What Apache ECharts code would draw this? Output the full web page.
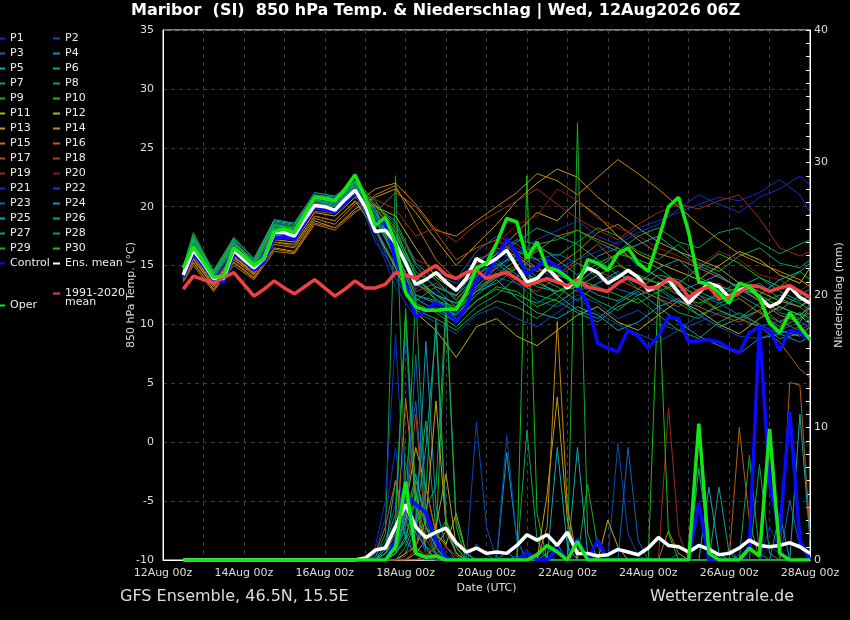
<!DOCTYPE html>
<html><head><meta charset="utf-8">
<script src="https://cdn.jsdelivr.net/npm/echarts@6/dist/echarts.min.js"></script>
<style>html,body{margin:0;padding:0;background:#000;}#c{width:850px;height:620px;}</style>
</head><body><div id="c"></div>
<script>
// hours since 12Aug 00z
const HOURS6 = [12,18,24,30,36,42,48,54,60,66,72,78,84,90,96,102,108,114,120,126,132,138,144,150,156,162,168,174,180,186,192,198,204,210,216,222,228,234,240,246,252,258,264,270,276,282,288,294,300,306,312,318,324,330,336,342,348,354,360,366,372,378,384];
const MEMBER_HOURS = [12,18,30,42,54,66,78,90,102,114,126,138,150,162,174,186,198,210,222,234,246,258,270,282,294,306,318,330,342,354,366,378,384];
const PRECIP_HOURS = [12,120,126,132,138,144,150,156,162,168,174,180,186,192,198,204,210,216,222,228,234,240,246,252,258,264,270,276,282,288,294,300,306,312,318,324,330,336,342,348,354,360,366,372,378,384];
const DATE_LABELS = ['12Aug 00z','14Aug 00z','16Aug 00z','18Aug 00z','20Aug 00z','22Aug 00z','24Aug 00z','26Aug 00z','28Aug 00z'];

const MEAN_T = [14.2,16.3,15.2,13.9,13.9,16.3,15.5,14.8,15.6,17.8,17.8,17.5,18.9,20.1,20.0,19.7,20.6,21.4,20.0,17.9,18.0,16.9,15.2,13.4,13.8,14.4,13.6,12.9,13.9,
 15.6,15.1,15.6,16.3,14.9,13.6,13.9,14.8,13.9,13.1,13.8,14.8,14.4,13.5,14.0,14.6,14.0,12.9,13.3,13.8,12.7,11.8,12.7,13.5,13.2,12.3,12.9,13.2,12.3,11.5,11.9,13.2,12.3,11.8];
const CTRL_T = [14.0,16.0,15.0,13.8,13.6,16.0,15.4,14.6,15.3,17.3,17.4,17.2,18.6,20.0,19.8,19.5,20.3,21.2,20.1,18.7,18.6,15.5,13.5,10.6,11.2,11.9,11.2,10.2,11.5,
 13.8,14.2,15.6,17.3,16.0,14.2,14.9,15.5,14.9,14.0,13.2,11.8,8.4,8.0,7.7,9.5,9.0,8.0,9.0,10.6,10.5,8.5,8.6,8.7,8.5,8.0,7.6,9.3,9.8,9.5,7.8,9.5,9.3,8.7];
const OPER_T = [14.8,16.6,15.3,14.0,14.1,16.5,15.8,15.0,15.6,17.9,18.1,17.8,19.3,20.8,20.7,20.5,21.5,22.7,20.8,18.4,19.1,16.9,12.7,11.5,11.2,11.2,11.3,11.3,12.7,
 14.8,15.2,16.9,19.0,18.7,15.6,17.0,14.8,14.6,14.0,13.2,15.5,15.2,14.6,16.0,16.5,15.2,14.5,17.2,20.0,20.8,17.8,13.6,13.4,12.7,11.8,13.5,13.2,12.3,10.1,9.3,11.0,9.8,8.7];
const CLIM_T = [13.0,14.1,13.8,13.5,14.0,14.4,13.4,12.4,13.0,13.7,13.1,12.6,13.2,13.8,13.1,12.4,13.0,13.7,13.1,13.1,13.4,14.4,14.2,13.9,14.5,15.0,14.2,13.9,14.4,
 14.6,13.9,14.2,14.4,13.9,13.3,13.6,13.9,13.6,13.3,13.8,13.2,13.0,12.8,13.5,14.0,13.6,13.1,13.2,13.9,13.5,12.3,12.9,13.2,12.2,12.3,12.7,13.3,13.2,12.8,13.1,13.3,12.8,12.3];

const MEAN_P = [0,0,0,0,0,0,0,0,0,0,0,0,0,0,0,0,0,0,0.15,0.75,0.9,2.5,4.2,2.5,1.7,2.1,2.4,1.3,0.6,0.9,
 0.5,0.6,0.5,1.1,1.9,1.5,1.9,1.1,2.1,0.5,0.5,0.3,0.4,0.8,0.6,0.4,0.9,1.7,1.1,1.0,0.6,1.1,0.8,0.4,0.5,0.9,1.5,1.1,1.0,1.1,1.3,1.0,0.5];
const CTRL_P = [0,0,0,0,1.5,4.9,4.2,3.6,1.5,0.2,0,0,0,0,0,0,0,0.5,0,0,0.8,0,1.6,0,1.5,0,0,0,0,0,0,0,0,0,4.3,0,0,0,0,1.0,17.7,5.8,2.0,11.2,1.5,0];
const OPER_P = [0,0,0,0,1.0,5.9,0.5,0.2,0.3,0,0,0,0,0,0,0,0,0,0.4,1.1,0.6,0,1.4,0,0,0,0,0,0,0,0,0,0,0,10.3,0.5,0,0,0,0.9,0.3,9.9,0.5,0,0,0];

const P1_T=[14.0,16.0,13.7,16.0,14.6,17.4,17.2,19.8,19.5,21.0,18.5,13.8,11.5,12.8,11.0,14.5,15.0,16.5,15.2,14.8,15.5,16.2,17.0,18.2,18.8,19.5,20.2,20.8,20.5,21.2,22.3,21.0,19.5];
const P2_T=[14.3,16.5,14.1,16.6,15.0,18.0,17.8,20.3,20.0,21.6,17.0,14.5,10.8,11.5,10.2,13.2,14.0,13.5,12.0,11.5,12.5,11.8,10.5,11.2,10.0,9.5,10.2,11.0,10.5,9.8,10.3,11.0,10.2];
const P3_T=[14.5,16.8,14.3,16.9,15.3,18.4,18.0,20.8,20.5,21.8,19.5,17.0,13.0,14.5,13.8,16.2,17.5,16.8,15.5,16.0,15.2,14.0,13.0,12.5,13.2,12.0,11.5,12.8,13.5,12.2,11.0,10.5,11.8];
const P4_T=[14.1,16.2,13.8,16.4,14.9,17.9,17.6,20.5,20.2,21.5,18.2,15.0,12.0,13.2,12.4,14.8,16.0,17.2,16.8,15.5,14.2,15.8,16.5,15.0,14.0,12.8,13.5,14.2,13.0,12.0,11.2,12.5,13.0];
const P5_T=[14.6,17.2,14.0,16.8,15.5,18.8,18.5,21.0,20.8,22.0,19.8,16.2,12.5,11.8,10.8,12.5,13.8,12.2,11.0,10.5,11.5,10.8,9.5,10.2,11.5,12.2,10.8,9.8,10.5,11.2,9.5,9.0,9.8];
const P6_T=[14.2,16.4,14.0,16.2,14.7,17.6,17.4,20.0,19.6,21.2,18.8,17.5,14.2,12.0,11.2,13.5,15.5,14.2,13.2,12.8,13.5,12.5,12.0,13.0,14.2,13.8,12.8,12.0,13.2,14.0,12.8,12.0,12.5];
const P7_T=[14.9,17.6,14.4,17.2,15.2,18.2,18.0,20.6,20.3,21.8,20.2,18.5,15.0,13.0,11.5,12.8,14.2,15.5,14.0,13.2,12.0,13.5,14.5,13.0,12.2,11.0,10.5,11.8,12.5,11.5,10.2,11.0,10.5];
const P8_T=[14.4,16.6,14.2,16.5,15.0,18.1,17.8,20.4,20.0,21.6,19.2,16.5,11.8,11.0,9.8,11.5,12.5,14.0,16.5,15.8,17.0,18.2,17.5,16.2,15.5,16.8,15.2,14.5,15.8,16.5,15.2,14.8,15.5];
const P9_T=[14.7,17.0,14.5,17.0,15.4,18.5,18.2,20.7,20.4,22.0,19.0,15.5,11.2,10.5,9.5,11.0,12.0,11.5,10.5,11.8,13.0,12.0,11.2,12.5,13.0,11.8,10.8,11.5,12.2,11.0,9.8,10.5,11.0];
const P10_T=[14.8,17.4,14.2,16.9,15.3,18.3,18.1,20.9,20.6,22.2,20.5,17.8,13.5,12.2,10.5,12.0,13.2,12.8,11.5,12.2,14.0,15.2,16.0,15.5,14.8,13.5,14.8,16.0,15.2,14.0,13.2,14.5,13.8];
const P11_T=[13.8,15.5,13.2,15.5,14.2,17.0,16.8,19.2,18.8,20.5,18.0,14.8,11.0,9.5,7.2,9.8,10.5,9.0,8.2,9.5,10.8,11.5,10.2,9.5,10.8,12.0,11.2,10.0,9.2,10.5,11.5,10.8,10.0];
const P12_T=[14.0,15.8,13.5,15.8,14.4,17.2,17.0,19.5,19.2,20.8,20.0,19.2,16.5,14.0,12.8,14.5,16.0,17.8,19.5,18.8,20.5,19.2,17.5,16.0,15.2,14.5,13.8,15.0,16.2,15.5,14.2,13.5,14.8];
const P13_T=[13.9,15.2,13.0,15.3,14.0,16.5,16.2,18.8,18.2,19.8,20.8,21.5,19.5,17.2,15.0,16.8,18.5,20.5,22.0,23.2,22.5,20.8,19.5,18.2,17.0,16.2,15.5,14.8,13.5,12.8,12.0,11.5,12.2];
const P14_T=[14.1,15.6,13.4,15.7,14.3,16.8,16.5,19.0,18.5,20.2,21.5,22.0,20.2,18.0,17.5,18.8,20.0,21.2,22.8,22.2,21.0,22.5,24.0,22.8,21.5,20.0,18.5,17.2,16.0,15.2,14.5,13.8,13.2];
const P15_T=[13.6,15.0,12.8,15.0,13.8,16.2,16.0,18.5,18.0,19.5,21.0,21.8,18.5,15.5,13.8,15.2,16.5,15.8,14.5,15.0,16.2,17.8,18.5,17.2,16.0,15.5,14.8,14.0,13.2,12.0,10.8,10.2,11.5];
const P16_T=[13.7,15.3,12.9,15.2,13.9,16.4,16.1,18.6,18.2,19.6,20.2,17.0,13.5,12.5,11.8,13.0,14.2,15.0,16.2,17.5,18.0,17.2,16.5,15.2,14.0,13.2,12.5,11.2,10.5,9.8,8.5,6.2,5.5];
const P17_T=[13.8,15.6,13.3,15.6,14.2,17.0,16.6,19.2,18.8,20.4,19.5,21.2,20.0,17.8,15.5,16.5,17.2,16.0,14.8,14.2,15.5,16.8,15.2,14.0,13.5,12.8,11.5,10.8,10.2,11.2,12.0,11.5,10.8];
const P18_T=[14.0,16.0,13.6,15.9,14.5,17.4,17.2,19.6,19.4,21.0,19.0,16.0,12.8,13.5,12.2,13.8,14.8,13.5,12.8,14.0,15.2,14.5,13.8,13.0,12.2,11.5,12.8,13.5,12.2,11.0,10.2,9.5,10.0];
const P19_T=[14.3,16.6,14.0,16.4,14.8,17.8,17.6,20.2,19.8,21.3,20.6,19.8,17.5,18.2,17.0,18.5,19.5,20.5,21.5,20.2,19.0,18.0,17.2,18.5,19.5,20.2,19.8,20.5,21.0,19.0,16.5,15.8,16.2];
const P20_T=[14.5,16.7,14.2,16.7,15.1,18.0,17.7,20.4,20.1,21.6,20.0,18.0,15.5,14.8,13.8,15.0,16.8,18.5,19.2,21.5,20.5,19.0,18.2,17.5,16.5,15.8,15.0,16.2,15.5,14.2,13.8,12.8,13.5];
const P21_T=[14.2,16.3,13.9,16.3,14.8,17.7,17.5,20.0,19.6,21.2,17.5,13.2,10.5,11.8,11.0,13.0,14.5,16.0,17.2,18.0,18.8,17.5,16.8,17.8,18.5,19.8,21.0,20.2,19.5,20.8,21.5,22.6,21.8];
const P22_T=[14.0,16.1,13.6,16.1,14.6,17.5,17.3,19.9,19.4,21.0,18.0,14.0,11.0,10.2,9.2,10.8,11.5,10.5,9.8,11.0,12.2,11.0,10.0,9.2,8.5,9.5,10.8,9.8,9.0,8.8,9.5,10.2,9.8];
const P23_T=[14.6,16.9,14.4,17.0,15.4,18.6,18.3,20.9,20.6,22.0,19.2,16.8,13.5,14.2,13.5,15.5,16.2,15.5,14.8,13.8,12.8,13.5,14.2,13.8,12.5,11.8,12.5,11.8,10.8,10.0,9.2,9.8,10.5];
const P24_T=[14.3,16.7,14.1,16.7,15.2,18.4,18.0,20.6,20.2,21.7,18.8,15.8,12.2,11.2,10.8,12.8,13.5,14.8,13.8,12.5,11.2,10.5,11.8,12.8,11.5,10.2,9.0,8.2,7.5,8.8,9.2,8.5,9.0];
const P25_T=[14.7,17.3,14.6,17.3,15.6,18.9,18.6,21.2,20.9,22.1,19.5,17.2,13.8,12.5,11.8,13.2,14.8,16.2,15.5,14.2,13.5,14.8,16.0,16.8,17.5,16.2,15.0,14.2,13.0,12.5,13.8,14.5,15.2];
const P26_T=[14.5,16.8,14.3,16.6,15.1,18.2,17.9,20.5,20.1,21.7,19.8,17.8,14.5,13.2,12.5,14.0,15.8,17.0,18.2,17.5,16.8,15.5,14.2,13.5,14.8,15.5,14.0,13.2,12.8,13.5,12.2,11.5,12.0];
const P27_T=[14.8,17.5,14.3,17.1,15.3,18.5,18.2,20.8,20.4,21.9,20.0,18.8,15.2,13.8,12.0,14.2,15.2,13.8,12.5,12.0,11.0,10.2,11.5,12.2,10.8,9.5,8.8,10.2,11.0,10.0,8.8,9.2,9.8];
const P28_T=[14.4,16.5,14.1,16.4,14.9,17.9,17.7,20.3,20.0,21.5,19.0,16.2,12.5,12.0,11.5,13.8,15.0,15.8,16.8,17.2,18.0,17.0,16.2,17.5,18.2,17.0,16.5,17.8,18.2,17.0,16.0,16.8,17.2];
const P29_T=[14.9,17.8,14.5,17.4,15.5,18.7,18.4,21.0,20.7,22.2,19.5,15.8,11.5,11.2,10.2,12.0,13.0,12.5,11.8,12.8,13.8,13.2,12.5,11.8,12.8,13.5,12.2,11.2,10.5,11.8,12.5,11.8,11.2];
const P30_T=[14.6,17.1,14.4,16.9,15.2,18.4,18.2,20.9,20.5,22.0,20.2,18.2,14.0,12.5,11.2,12.8,14.0,14.8,13.5,12.8,13.2,14.2,15.0,14.2,13.5,12.5,11.8,12.5,13.2,12.5,11.5,10.8,11.5];

const P1_P=[0,0,0.5,3.2,8.5,2.0,0.4,0.2,0,0, 0,0,0,0,0,0,0.3,0,0.6,0.3, 0,0,0,0,0,0,0,0,0,0, 0,0,0,0,1.2,0.5,0,0,0,0, 0,2.5,0.8,0,0,0];
const P2_P=[0,0,0.3,1.5,4.2,17.5,3.0,0.5,0,0, 0,0,0,0,0,0,0,0.8,0,0, 0,0,1.5,0,0,0,8.8,2.0,0.3,0, 0,0,0,0,0,0,0,0,0.4,0, 0,0,0,0,0,0];
const P3_P=[0,0,0,0.5,2.0,6.5,12.0,2.5,0.5,0, 0,0,1.2,0.4,0,0,0,0,0,0, 0,0,0,0,0,0,0,0,0,0, 0,0,0.5,0,0,0,0,0,0,0, 0,0,0,4.5,1.0,0];
const P4_P=[0,0,0,0,1.0,3.5,2.0,16.5,4.0,1.0, 0,0,0,0,0,0.6,0,0,0,0, 0,0,0,0,0,0,0,0,0,0, 0,0,0,0,0,0,0,0.8,0,0, 0,0,0,0,0,0];
const P5_P=[0,0,0,0.8,6.0,1.5,0.5,0.3,0,0, 0,0,0,0,0,8.1,1.5,0,0,0, 0,0,8.5,0.5,0,0,0,0,0,0, 0,0,0,0,6.9,1.2,0,0,0,0, 0,0,0,0,11.0,1.5];
const P6_P=[0,0,0,0,0.5,1.8,4.5,10.5,2.2,0, 0,0,0,0,0,0,0,0,0,0.5, 1.2,0,0,0,0,0,0,0,0,0, 0,0,0,0,0,0,5.5,0.5,0,0, 0,0,0,0,0,0];
const P7_P=[0,0,0,0,0,0.5,2.5,5.0,18.2,3.0, 0.5,0,0,0,0,0,0,9.8,1.5,0, 0,0,0,0,0,0,0,0,0,0, 0,0,0,0,0,0,0,0,0,0, 0,0,0,0,0,0];
const P8_P=[0,0,0.2,2.0,29.0,4.5,1.0,0,0,0, 0,0,0,0,0,0,0,0,0,0, 0,0,0,0,0,0,0,0,0,0, 0,0,0,0,0,0,0,0,0,7.9, 0.5,0,0,0,0,0];
const P9_P=[0,0,0,1.2,3.5,18.5,4.0,0.8,0,0, 0,0,0,0,0,0,0,0,0,0, 0,0,33.0,2.0,0,0,0,0,0,0, 0,0,0,0,0,0,0,0,0,0, 0,0,0,0,0,0];
const P10_P=[0,0,0,0,0.8,2.5,6.0,3.5,1.5,19.0, 2.5,0,0,0,0,0,0,29.0,3.5,0, 0,0,0,0,0,0,0,0,0,0, 0,0,0,0,0,0,0,0,0,0, 0,0,0,0,0,0];
const P11_P=[0,0,0,0.5,1.5,4.0,8.5,5.5,2.0,1.2, 3.5,0.5,0,0,0,0,0,0,0,0, 0,0,0,0,0,0,0,0,0,0, 0,0,0,0,0,0,0,0,0,0, 0,0,0,0,0,0];
const P12_P=[0,0,0,0,0,0.5,1.0,3.0,12.0,2.5, 0.5,0,0,0,0,0,0,0,0,0, 0,0,0,0,0,3.0,1.0,0,0,0, 0,0,0,0,0,0,0,0,0,0, 0,0,0,0,0,0];
const P13_P=[0,0,0,0,0,0,0.5,1.5,2.5,6.5, 1.0,0,0,0,0,0,0,0,0,5.0, 12.3,3.0,0,0,0,0,0,0,0,0, 0,0,0,0,0,0,0,0,0,0, 0,0,0,0,0,0];
const P14_P=[0,0,0,0,0,0,0,0.3,1.0,2.2, 0.5,0,0,0,0,0,0,0,0,2.5, 18.0,4.0,0,0,0,0,0,0,0,0, 0,0,0,0,0,0,0,0,0,0, 0,0,0,0,0,0];
const P15_P=[0,0,0,0,0.5,12.2,4.5,1.0,0,0, 0,0,0,0,0,0,0,0,0,0, 0,0,0,0,0,0,0,0,0,0, 0,2.2,0.5,0,0,0,0,0,0,0, 0,0,0,0,0,0];
const P16_P=[0,0,0.5,2.5,6.0,3.0,1.0,0.3,0,0, 0,0,0,0,0,0,0,0,0,0, 0,0,0,0,0,0,0,0,0,0, 0,0,0,0,0,0,0,0,10.0,3.0, 0,0,0,13.4,13.2,2.0];
const P17_P=[0,0,0,0,0,0,0.8,5.5,2.0,1.0, 0.3,0,0,0,0,0,0,0,0,0, 0,0,0,0,0,0,0,0,0,0, 0,0,0,0,0,0,0,0,0,0, 0,0,0,0,0,0];
const P18_P=[0,0,0,0.5,2.0,3.5,11.0,2.0,0.5,0, 0,0,0,0,0,0,0,0,0,0, 0,0,0,0,0,0,0,0,0,0, 0,0,0,0,0,0,0,0,0,0, 0,0,0,0,0,0];
const P19_P=[0,0,0,0,0,0,0,0,0.5,1.0, 0.3,0,0,0,0,0,0,0,0,0, 0,0,0,0,0,0,0,0,0,0, 0,11.5,2.0,0,0,0,0,0,0,0, 0,0,0,0,0,0];
const P20_P=[0,0,0,0,0,0.3,1.5,2.5,1.0,0, 0,0,0,0,0,0,0,0,0,0, 0,0,0,0,0,0,0,0,0,0, 0,0,0,0,0,0,0,0,0,0, 0,0,0,0,0,0];
const P21_P=[0,0,1.0,4.5,17.0,3.5,0.5,0,0,0, 0,0,0,0,0,0,0,0,0,0, 0,0,0,0,0,0,0,0,0,0, 0,0,0,0,0,0,0,0,0,0, 0,1.0,0.5,0,0,0];
const P22_P=[0,0,0.2,1.0,3.0,6.0,2.5,0.5,0,0, 0,0,10.4,2.5,0,9.4,1.5,0,0,0, 0,0,0,0,0,0,0,0,0,0, 0,0,0,0,0,0,0,0,0,0, 0,0,0,0,0,0];
const P23_P=[0,0,0,0,0.5,2.5,15.5,3.0,0.8,0, 0,0,0,0,0,0,0,0,0,0, 0,0,0,0,0,0,0,8.5,1.5,0, 0,0,0,0,0,0,0,0,0,0, 0,0,0,0,0,0];
const P24_P=[0,0,0,0.5,1.5,4.0,2.0,1.0,0.5,0, 0,0,0,0,0,0,0,0,0,0, 0,0,0,0,0,0,0,0,0,0, 0,0,0,0,0,0,0,0,0,0, 0,0,3.5,0,0,0];
const P25_P=[0,0,0,0,0.8,3.0,6.5,2.5,1.0,0, 0,0,0,0,0,0,0,0,0,0, 8.5,1.0,0,0,0,0,0,0,0,0, 0,0,0,0,0,5.5,0.5,0,0,0, 0,0,0,0,0,0];
const P26_P=[0,0,0,0,0,1.0,3.0,8.5,17.5,2.5, 0.5,0,0,0,0,0,0,0,0,0, 0,0,0,0,0,0,0,0,0,0, 0,0,0,0,0,0,0,0,0,0, 0,0,0,0,0,0];
const P27_P=[0,0,0,0,0.5,1.5,3.0,4.0,5.5,19.5, 3.0,0.5,0,0,0,0,0,0,0,0, 0,0,0,0,0,0,0,0,0,0, 0,0,0,0,0,0,0,0,0,0, 7.2,0.5,0,0,0,0];
const P28_P=[0,0,0,0,0.5,3.5,20.0,4.0,1.0,0, 0,0,0,0,0,0,0,0,0,0, 0,0,0,0,0,0,0,0,0,0, 0,0,0,0,0,0,0,0,0,0, 0,0,0,0,0,0];
const P29_P=[0,0,0,0.5,2.5,19.0,5.0,1.5,0.5,0, 0,0,0,0,0,0,0,0,0,0, 0,0,0,5.7,1.0,0,0,0,0,0, 0,0,0,0,0,0,0,0,0,0, 0,0,0,0,0,0];
const P30_P=[0,0,0,0,0.5,1.5,5.0,2.5,1.5,3.0, 1.0,0,0,0,0,0,0,0,0,0, 0,0,0,0,0,0,0,0,0,0, 21.0,2.0,0,0,0,0,0,0,0,0, 0,0,0,0,0,0];

const MEMBER_NAMES = ['P1','P2','P3','P4','P5','P6','P7','P8','P9','P10','P11','P12','P13','P14','P15','P16','P17','P18','P19','P20','P21','P22','P23','P24','P25','P26','P27','P28','P29','P30'];
const MEMBER_T = [P1_T,P2_T,P3_T,P4_T,P5_T,P6_T,P7_T,P8_T,P9_T,P10_T,P11_T,P12_T,P13_T,P14_T,P15_T,P16_T,P17_T,P18_T,P19_T,P20_T,P21_T,P22_T,P23_T,P24_T,P25_T,P26_T,P27_T,P28_T,P29_T,P30_T];
const MEMBER_P = [P1_P,P2_P,P3_P,P4_P,P5_P,P6_P,P7_P,P8_P,P9_P,P10_P,P11_P,P12_P,P13_P,P14_P,P15_P,P16_P,P17_P,P18_P,P19_P,P20_P,P21_P,P22_P,P23_P,P24_P,P25_P,P26_P,P27_P,P28_P,P29_P,P30_P];
const MEMBER_COLORS = ['#1030c8','#0a48b8','#1464b4','#1490c0','#14a8b0','#10a088','#10a064','#10a044','#14ac28','#10c010',
 '#b4b414','#c4ac10','#c49c10','#c48810','#c07414','#b46010','#b45010','#b04018','#9c2c18','#8c1c14',
 '#1030c8','#0a48b8','#1464b4','#1490c0','#14a8b0','#10a088','#10a064','#10a044','#14ac28','#10c010'];

function pairs(hours, vals){ return hours.map(function(h,i){ return [h, vals[i]]; }); }

const FONT = 'DejaVu Sans';
const series = [];
MEMBER_NAMES.forEach(function(n,i){
  const c = MEMBER_COLORS[i];
  series.push({name:n, type:'line', yAxisIndex:1, data:pairs(PRECIP_HOURS, MEMBER_P[i]), symbol:'none', silent:true,
    lineStyle:{width:1, color:c}, itemStyle:{color:c}, z:2});
  series.push({name:n, type:'line', yAxisIndex:0, data:pairs(MEMBER_HOURS, MEMBER_T[i]), symbol:'none', silent:true,
    lineStyle:{width:1, color:c}, itemStyle:{color:c}, z:2});
});
function main(name, color, tVals, pVals, pHours, z){
  series.push({name:name, type:'line', yAxisIndex:0, data:pairs(HOURS6, tVals), symbol:'none', silent:true,
    lineStyle:{width:3.5, color:color}, itemStyle:{color:color}, z:z});
  if (pVals) series.push({name:name, type:'line', yAxisIndex:1, data:pairs(pHours, pVals), symbol:'none', silent:true,
    lineStyle:{width:3.5, color:color}, itemStyle:{color:color}, z:z});
}
main('Control', '#0a0aff', CTRL_T, CTRL_P, PRECIP_HOURS, 3);
main('Ens. mean', '#ffffff', MEAN_T, MEAN_P, HOURS6, 4);
main('1991-2020 mean', '#f04040', CLIM_T, null, null, 5);
main('Oper', '#14e614', OPER_T, OPER_P, PRECIP_HOURS, 6);

const leftNames = [], rightNames = [];
MEMBER_NAMES.forEach(function(n,i){ (i%2===0 ? leftNames : rightNames).push(n); });
leftNames.push('Control'); rightNames.push('Ens. mean');

const legTxt = {color:'#eeeeee', fontSize:11, lineHeight:13, fontFamily:FONT};
function leg(left, top, data, extra){
  return Object.assign({left:left, top:top, orient:'vertical', itemGap:2, itemWidth:7, itemHeight:2, icon:'rect',
    padding:0, selectedMode:false, data:data, textStyle:legTxt}, extra||{});
}

const chart = echarts.init(document.getElementById('c'));
chart.setOption({
  backgroundColor:'#000000',
  animation:false,
  textStyle:{fontFamily:FONT},
  title:[
    {text:'Maribor  (SI)  850 hPa Temp. & Niederschlag | Wed, 12Aug2026 06Z', left:131, top:3, padding:0,
     textStyle:{color:'#ffffff', fontSize:16, fontWeight:'bold', fontFamily:FONT}},
    {text:'GFS Ensemble, 46.5N, 15.5E', left:120, top:589, padding:0,
     textStyle:{color:'#dddddd', fontSize:16, fontWeight:'normal', fontFamily:FONT}},
    {text:'Wetterzentrale.de', left:650, top:589, padding:0,
     textStyle:{color:'#dddddd', fontSize:16, fontWeight:'normal', fontFamily:FONT}}
  ],
  legend:[
    leg(-2, 32, leftNames),
    leg(53, 32, rightNames),
    leg(-2, 299, ['Oper']),
    leg(53, 287, ['1991-2020 mean'], {formatter:function(){return '1991-2020';}})
  ],
  graphic:[{type:'text', left:65, top:297, style:{text:'mean', fill:'#eeeeee', font:'11px "DejaVu Sans"'}}],
  grid:{left:163, right:40, top:30, bottom:60, containLabel:false, outerBoundsMode:'none',
    show:true, borderColor:'#ffffff', borderWidth:1, backgroundColor:'transparent'},
  xAxis:{type:'value', min:0, max:384, interval:24,
    name:'Date (UTC)', nameLocation:'middle', nameGap:23, nameMoveOverlap:false, nameTextStyle:{color:'#dddddd', fontSize:11},
    axisLine:{show:true, onZero:false, lineStyle:{color:'#ffffff'}}, axisTick:{show:false},
    axisLabel:{color:'#dddddd', fontSize:11, margin:8, formatter:function(v){ return v%48===0 ? DATE_LABELS[v/48] : ''; }},
    splitLine:{show:true, lineStyle:{color:'#3c3c3c', type:[4,4], width:1}}},
  yAxis:[
    {type:'value', min:-10, max:35, interval:5, position:'left',
     name:'850 hPa Temp. (°C)', nameLocation:'middle', nameGap:26, nameRotate:90, nameMoveOverlap:false, nameTextStyle:{color:'#dddddd', fontSize:11},
     axisLine:{show:true, onZero:false, lineStyle:{color:'#ffffff'}}, axisTick:{show:false},
     axisLabel:{color:'#dddddd', fontSize:11, margin:9},
     splitLine:{show:true, lineStyle:{color:'#3c3c3c', type:[4,4], width:1}}},
    {type:'value', min:0, max:40, interval:10, position:'right',
     name:'Niederschlag (mm)', nameLocation:'middle', nameGap:24, nameRotate:90, nameMoveOverlap:false, nameTextStyle:{color:'#dddddd', fontSize:11},
     axisLine:{show:true, onZero:false, lineStyle:{color:'#ffffff'}},
     axisTick:{show:true, inside:true, length:4, lineStyle:{color:'#ffffff'}},
     minorTick:{show:true, splitNumber:10, length:4, lineStyle:{color:'#ffffff'}},
     axisLabel:{color:'#dddddd', fontSize:11, margin:4},
     splitLine:{show:false}}
  ],
  series:series
});
</script></body></html>
